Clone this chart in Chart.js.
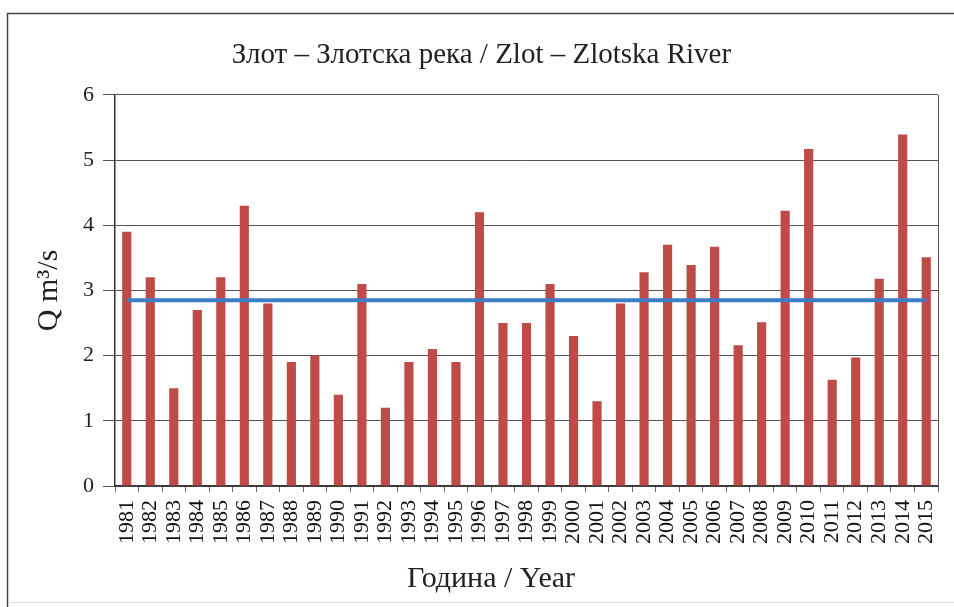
<!DOCTYPE html>
<html lang="sr">
<head>
  <meta charset="UTF-8">
  <title>Zlot - Zlotska River</title>
  <script src="https://cdn.jsdelivr.net/npm/chart.js@4.4.1/dist/chart.umd.min.js"></script>
  <style>
    body {
      margin: 0;
      background: white;
    }
    #wrap {
      width: 954px;
      height: 607px;
    }
  </style>
</head>
<body>
  <div id="wrap">
    <canvas id="myChart" width="954" height="607"></canvas>
  </div>
  <script>
    const years = ['1981', '1982', '1983', '1984', '1985', '1986', '1987', '1988', '1989', '1990',
      '1991', '1992', '1993', '1994', '1995', '1996', '1997', '1998', '1999', '2000',
      '2001', '2002', '2003', '2004', '2005', '2006', '2007', '2008', '2009', '2010',
      '2011', '2012', '2013', '2014', '2015'];
    const flows = [3.9, 3.2, 1.5, 2.7, 3.2, 4.3, 2.8, 1.9, 2.0, 1.4,
      3.1, 1.2, 1.9, 2.1, 1.9, 4.2, 2.5, 2.5, 3.1, 2.3,
      1.3, 2.8, 3.28, 3.7, 3.39, 3.67, 2.16, 2.51, 4.22, 5.17,
      1.63, 1.97, 3.18, 5.39, 3.51];
    const meanFlow = 2.85;
    const meanLine = years.map(() => meanFlow);
    const xTitle = 'Година / Year';

    const serif = "'Liberation Serif', 'DejaVu Serif', serif";

    // outer frame, right border of the plot area and the x axis title
    const framePlugin = {
      id: 'frame',
      afterDraw(chart) {
        const c = chart.ctx;
        const a = chart.chartArea;
        c.save();
        c.strokeStyle = '#555';
        c.lineWidth = 1;
        c.beginPath();
        c.moveTo(a.right + 0.5, a.top);
        c.lineTo(a.right + 0.5, a.bottom);
        c.stroke();

        c.strokeStyle = '#444';
        c.lineWidth = 1.5;
        c.beginPath();
        c.moveTo(954, 13.5);
        c.lineTo(7.5, 13.5);
        c.lineTo(7.5, 607);
        c.stroke();
        c.strokeStyle = '#ddd';
        c.lineWidth = 1;
        c.beginPath();
        c.moveTo(8, 602.5);
        c.lineTo(954, 602.5);
        c.stroke();

        c.fillStyle = '#222';
        c.font = '30px ' + serif;
        c.textAlign = 'center';
        c.textBaseline = 'middle';
        c.fillText(xTitle, 491, 579);
        c.restore();
      }
    };

    const ctx = document.getElementById('myChart');
    new Chart(ctx, {
      type: 'bar',
      data: {
        labels: years,
        datasets: [{
          type: 'line',
          label: 'mean',
          data: meanLine,
          borderColor: '#3b7dc6',
          borderWidth: 4,
          pointRadius: 0,
          order: 0
        }, {
          label: 'Q',
          data: flows,
          backgroundColor: '#be4b48',
          barPercentage: 0.78,
          categoryPercentage: 0.5,
          order: 1
        }]
      },
      options: {
        responsive: false,
        animation: false,
        layout: {
          padding: { left: 25, right: 16, top: 24, bottom: 11 }
        },
        plugins: {
          legend: { display: false },
          tooltip: { enabled: false },
          title: {
            display: true,
            text: 'Злот – Злотска река / Zlot – Zlotska River',
            color: '#222',
            font: { family: serif, size: 29, weight: 'normal' },
            padding: { top: 14, bottom: 22 }
          }
        },
        scales: {
          x: {
            afterFit(scale) {
              scale.height = 110;
              scale.paddingLeft = 0;
              scale.paddingRight = 0;
            },
            grid: {
              drawOnChartArea: false,
              drawTicks: true,
              tickLength: 6,
              color: '#666'
            },
            border: { color: '#333', width: 1.5 },
            ticks: {
              color: '#111',
              maxRotation: 90,
              minRotation: 90,
              autoSkip: false,
              padding: 8,
              font: { family: serif, size: 22 }
            }
          },
          y: {
            min: 0,
            max: 6,
            afterFit(scale) { scale.width = 90; },
            grid: {
              color: '#555',
              lineWidth: 1,
              tickLength: 12
            },
            border: { color: '#333', width: 1.5 },
            ticks: {
              stepSize: 1,
              color: '#222',
              padding: 9,
              font: { family: serif, size: 22 }
            },
            title: {
              display: true,
              text: 'Q m³/s',
              color: '#222',
              font: { family: serif, size: 30 },
              padding: { top: 6, bottom: 4 }
            }
          }
        }
      },
      plugins: [framePlugin]
    });
  </script>
</body>
</html>
